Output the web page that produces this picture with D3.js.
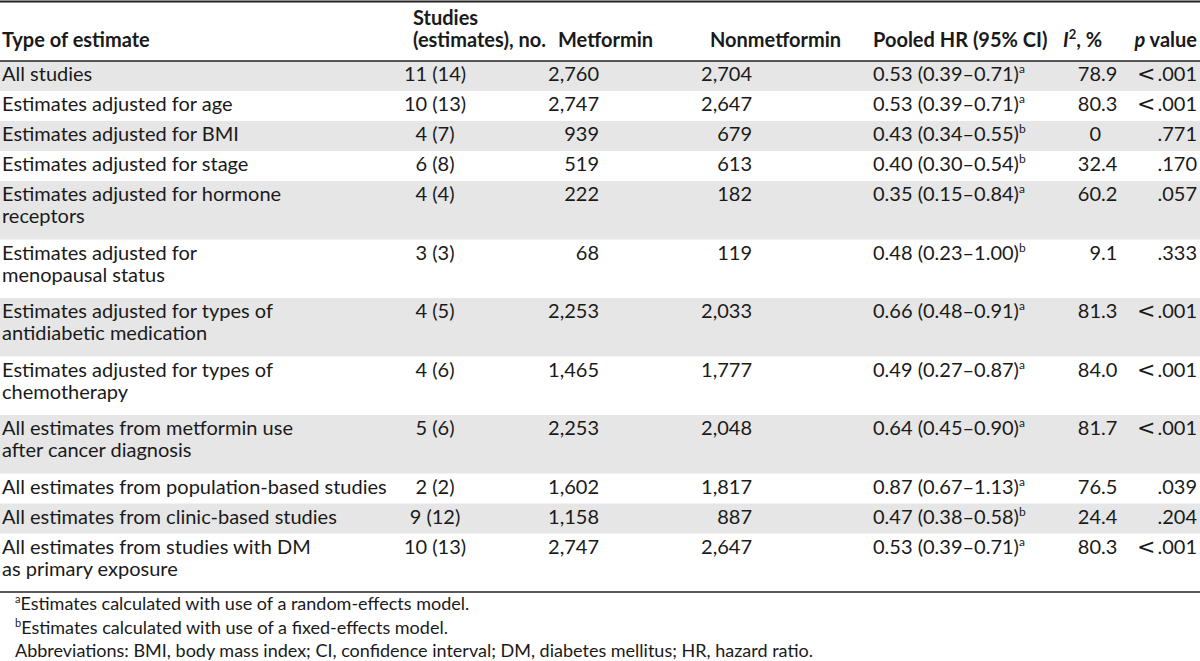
<!DOCTYPE html>
<html>
<head>
<meta charset="utf-8">
<script src="https://cdn.jsdelivr.net/npm/d3@7"></script>
<style>
  html, body { margin: 0; padding: 0; background: #fff; }
  svg { display: block; }
  text { font-family: Lato, "Open Sans", sans-serif; fill: #1a1a1a; }
</style>
</head>
<body>
<svg id="chart" width="1200" height="661"></svg>
<script>
// ---- data ----
const types = [
  ["All studies"],
  ["Estimates adjusted for age"],
  ["Estimates adjusted for BMI"],
  ["Estimates adjusted for stage"],
  ["Estimates adjusted for hormone", "receptors"],
  ["Estimates adjusted for", "menopausal status"],
  ["Estimates adjusted for types of", "antidiabetic medication"],
  ["Estimates adjusted for types of", "chemotherapy"],
  ["All estimates from metformin use", "after cancer diagnosis"],
  ["All estimates from population-based studies"],
  ["All estimates from clinic-based studies"],
  ["All estimates from studies with DM", "as primary exposure"]
];
const studiesN   = [11, 10, 4, 6, 4, 3, 4, 4, 5, 2, 9, 10];
const estimatesN = [14, 13, 7, 8, 4, 3, 5, 6, 6, 2, 12, 13];
const metformin    = [2760, 2747, 939, 519, 222, 68, 2253, 1465, 2253, 1602, 1158, 2747];
const nonmetformin = [2704, 2647, 679, 613, 182, 119, 2033, 1777, 2048, 1817, 887, 2647];
const pooledHR = [0.53, 0.53, 0.43, 0.40, 0.35, 0.48, 0.66, 0.49, 0.64, 0.87, 0.47, 0.53];
const ciLow    = [0.39, 0.39, 0.34, 0.30, 0.15, 0.23, 0.48, 0.27, 0.45, 0.67, 0.38, 0.39];
const ciHigh   = [0.71, 0.71, 0.55, 0.54, 0.84, 1.00, 0.91, 0.87, 0.90, 1.13, 0.58, 0.71];
const model    = ["a", "a", "b", "b", "a", "b", "a", "a", "a", "a", "b", "a"];
const i2       = [78.9, 80.3, 0, 32.4, 60.2, 9.1, 81.3, 84.0, 81.7, 76.5, 24.4, 80.3];
const pValues  = ["<.001", "<.001", ".771", ".170", ".057", ".333", "<.001", "<.001", "<.001", ".039", ".204", "<.001"];
const footnotes = [
  ["a", "Estimates calculated with use of a random-effects model."],
  ["b", "Estimates calculated with use of a fixed-effects model."],
  ["", "Abbreviations: BMI, body mass index; CI, confidence interval; DM, diabetes mellitus; HR, hazard ratio."]
];

// ---- layout ----
const W = 1200;
const svg = d3.select("#chart");
const FS = 20, LH = 22;
const headerLineY = 61;
const singleH = 30, extraH = 28.5;
const heights = types.map(t => singleH + (t.length - 1) * extraH);
const tops = [headerLineY, ...d3.cumsum(heights).map(v => v + headerLineY)];
const bottomY = tops[tops.length - 1];

const col = {
  type: 2, studies: 435, met: 599, non: 752, hr: 873, i2dot: 1101, p: 1197
};

const fmtN = d3.format(",");
const fmtHR = d3.format(".2f");
const fmtI = d3.format(".1f");

// row bands
const rows = svg.append("g").selectAll("g").data(types).join("g")
  .attr("transform", (d, i) => `translate(0,${tops[i]})`);

rows.filter((d, i) => i % 2 === 0).append("rect")
  .attr("x", 0).attr("y", 0).attr("width", W)
  .attr("height", d => heights[types.indexOf(d)])
  .attr("fill", "#e6e6e6");

const base = 20;
rows.each(function(d, i) {
  const g = d3.select(this);
  d.forEach((line, j) => {
    g.append("text").attr("x", col.type).attr("y", base + j * LH)
      .attr("font-size", FS).text(line);
  });
  g.append("text").attr("x", col.studies).attr("y", base).attr("font-size", FS)
    .attr("text-anchor", "middle").text(`${studiesN[i]} (${estimatesN[i]})`);
  g.append("text").attr("x", col.met).attr("y", base).attr("font-size", FS)
    .attr("text-anchor", "end").text(fmtN(metformin[i]));
  g.append("text").attr("x", col.non).attr("y", base).attr("font-size", FS)
    .attr("text-anchor", "end").text(fmtN(nonmetformin[i]));
  const t = g.append("text").attr("x", col.hr).attr("y", base).attr("font-size", FS);
  t.append("tspan").text(`${fmtHR(pooledHR[i])} (${fmtHR(ciLow[i])}\u2013${fmtHR(ciHigh[i])})`);
  t.append("tspan").attr("font-size", 12).attr("dy", -8).text(model[i]);
  const iv = i2[i] === 0 ? ["0", ""] : fmtI(i2[i]).split(".");
  g.append("text").attr("x", col.i2dot).attr("y", base).attr("font-size", FS)
    .attr("text-anchor", "end").text(iv[0]);
  if (iv[1]) g.append("text").attr("x", col.i2dot).attr("y", base).attr("font-size", FS)
    .text("." + iv[1]);
  const pv = pValues[i];
  const pt = g.append("text").attr("x", col.p).attr("y", base).attr("font-size", FS)
    .attr("text-anchor", "end");
  if (pv.startsWith("<")) {
    pt.append("tspan").attr("font-family", "DejaVu Sans").attr("font-size", 22).text("<");
    pt.append("tspan").attr("dx", 2).text(pv.slice(1));
  } else pt.text(pv);
});

// header
const hdr = svg.append("g");
const hY = 46.5;
const hText = (x, y, s) => hdr.append("text").attr("x", x).attr("y", y)
  .attr("font-size", FS).attr("font-weight", "bold").text(s);
hText(col.type, hY, "Type of estimate");
hText(413, hY - 22, "Studies");
hText(413, hY, "(estimates), no.");
hText(558, hY, "Metformin");
hText(710, hY, "Nonmetformin");
hText(873, hY, "Pooled HR (95% CI)");
const ih = hdr.append("text").attr("x", 1063).attr("y", hY).attr("font-size", FS).attr("font-weight", "bold");
ih.append("tspan").attr("font-style", "italic").text("I");
ih.append("tspan").attr("font-size", 13).attr("dy", -8).text("2");
ih.append("tspan").attr("dy", 8).text(", %");
const ph = hdr.append("text").attr("x", col.p).attr("y", hY).attr("font-size", FS).attr("font-weight", "bold").attr("text-anchor", "end");
ph.append("tspan").attr("font-style", "italic").text("p");
ph.append("tspan").text(" value");

// rules
svg.append("line").attr("x1", 0).attr("x2", W).attr("y1", 1.5).attr("y2", 1.5).attr("stroke", "#222").attr("stroke-width", 2);
svg.append("line").attr("x1", 0).attr("x2", W).attr("y1", headerLineY).attr("y2", headerLineY).attr("stroke", "#222").attr("stroke-width", 1.5);
svg.append("line").attr("x1", 0).attr("x2", W).attr("y1", bottomY).attr("y2", bottomY).attr("stroke", "#222").attr("stroke-width", 1.5);

// footnotes
const fn = svg.append("g");
footnotes.forEach((f, k) => {
  const t = fn.append("text").attr("x", 15).attr("y", bottomY + 18 + k * 23.5).attr("font-size", 18);
  if (f[0]) t.append("tspan").attr("font-size", 11).attr("dy", -7).text(f[0]);
  t.append("tspan").attr("dy", f[0] ? 7 : 0).text(f[1]);
});
</script>
</body>
</html>
